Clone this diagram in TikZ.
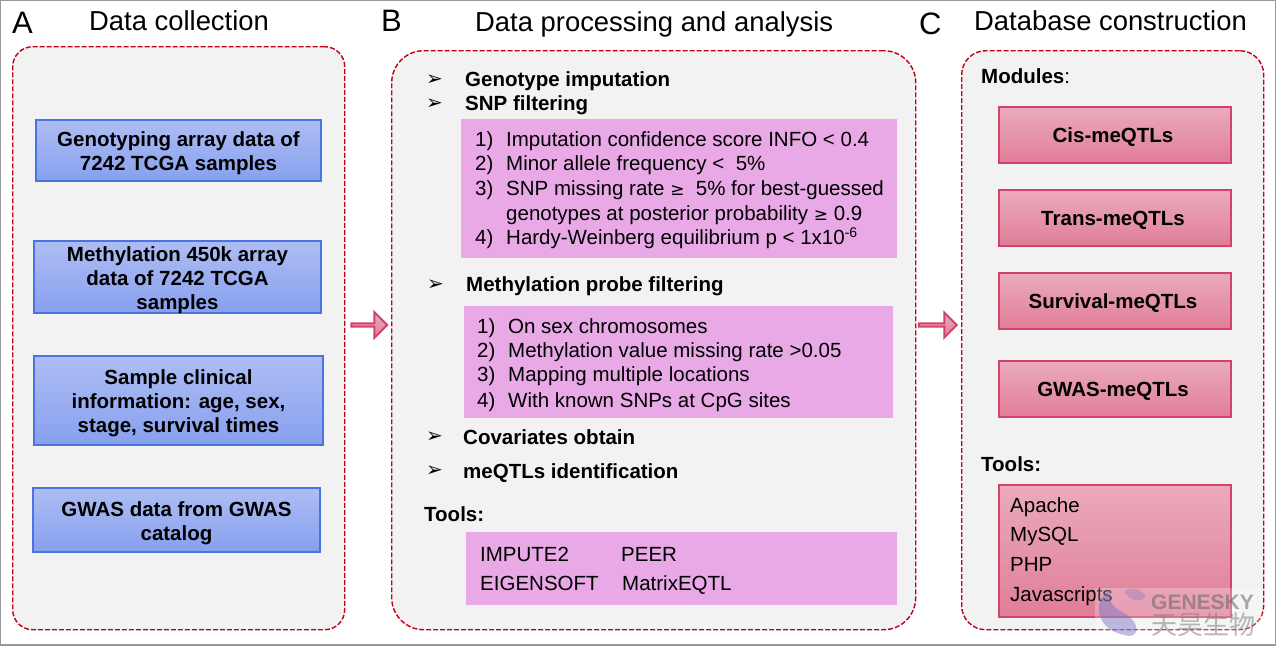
\documentclass[tikz,border=0pt]{standalone}
\usepackage{fontspec}
\setmainfont{Liberation Sans}
\newfontfamily\symfont{DejaVu Sans}
\newfontfamily\cjkfont{Noto Sans CJK SC}
\usetikzlibrary{shapes.arrows}
\definecolor{panelfill}{HTML}{F2F2F2}
\definecolor{paneledge}{HTML}{C00018}
\definecolor{bluetop}{HTML}{AEBDF3}
\definecolor{bluebot}{HTML}{87A0EE}
\definecolor{blueedge}{HTML}{4A74E2}
\definecolor{pinktop}{HTML}{EBABBC}
\definecolor{pinkbot}{HTML}{E07D98}
\definecolor{pinkedge}{HTML}{D2436C}
\definecolor{mauve}{HTML}{E8A9E6}
\tikzset{
  x=1pt,y=-1pt,
  panel/.style={draw=paneledge,fill=panelfill,line width=1.4pt,dash pattern=on 5pt off 2pt,inner sep=0,anchor=north west},
  bluebox/.style={draw=blueedge,line width=2pt,top color=bluetop,bottom color=bluebot,inner sep=0,align=center,
    text depth=0pt,font=\fontsize{20.5}{24}\selectfont\bfseries},
  pinkbox/.style={draw=pinkedge,line width=2pt,top color=pinktop,bottom color=pinkbot,inner sep=0,align=center,
    text height=14pt,text depth=0pt,font=\fontsize{20.5}{24}\selectfont\bfseries},
  mauvebox/.style={fill=mauve,inner sep=0,anchor=north west},
  title/.style={anchor=base west,inner sep=0,font=\fontsize{27.4}{30}\selectfont},
  letter/.style={anchor=base west,inner sep=0,font=\fontsize{31}{34}\selectfont},
  head/.style={anchor=base west,inner sep=0,font=\fontsize{20.5}{24}\selectfont\bfseries},
  plain/.style={anchor=base west,inner sep=0,font=\fontsize{20.5}{24}\selectfont},
  bullet/.style={anchor=base west,inner sep=0,font=\fontsize{20}{20}\symfont\bfseries},
  flow/.style={single arrow,draw=pinkedge,line width=2pt,top color=pinktop,bottom color=pinkbot,inner sep=0,
    single arrow head extend=7pt,single arrow tip angle=90,shape border rotate=0},
}
\begin{document}
\begin{tikzpicture}
\useasboundingbox (0,0) rectangle (1276,645);
\draw[draw=gray!80,line width=1.5pt] (0,0) rectangle (1276,645);

% titles
\node[letter] (la) at (12,33) {A};
\node[title] (ta) at (89,30) {Data collection};
\node[letter] (lb) at (381,31) {B};
\node[title] (tb) at (475,31) {Data processing and analysis};
\node[letter] (lc) at (919,34) {C};
\node[title] (tc) at (974,30) {Database construction};

% panels
\node[panel,rounded corners=20pt,minimum width=332pt,minimum height=583pt] (pa) at (12,46) {};
\node[panel,rounded corners=32pt,minimum width=524pt,minimum height=579pt] (pb) at (391,50) {};
\node[panel,rounded corners=24pt,minimum width=302pt,minimum height=579pt] (pc) at (961,50) {};

% column A
\node[bluebox,minimum width=285pt,minimum height=61pt] (a1) at (178.5,150.5) {\raisebox{-2pt}{Genotyping array data of}\\\raisebox{-2pt}{7242 TCGA samples}};
\node[bluebox,minimum width=287pt,minimum height=72pt] (a2) at (177.5,277) {\raisebox{-2pt}{Methylation 450k array}\\\raisebox{-2pt}{data of 7242 TCGA}\\\raisebox{-2pt}{samples}};
\node[bluebox,minimum width=289pt,minimum height=89pt] (a3) at (178.5,400.5) {\raisebox{-2pt}{Sample clinical}\\\raisebox{-2pt}{information: age, sex,}\\\raisebox{-2pt}{stage, survival times}};
\node[bluebox,minimum width=287pt,minimum height=64pt] (a4) at (176.5,520) {\raisebox{-2pt}{GWAS data from GWAS}\\\raisebox{-2pt}{catalog}};

% column B
\node[bullet] (b1) at (426,85) {➢};
\node[head] (t1) at (465,86) {Genotype imputation};
\node[bullet] (b2) at (426,109) {➢};
\node[head] (t2) at (465,110) {SNP filtering};
\node[mauvebox,minimum width=436pt,minimum height=139pt] (m1) at (461,119) {};
\node[plain] (n1) at (475,146) {1)};
\node[plain] (s1) at (506,146) {Imputation confidence score INFO < 0.4};
\node[plain] (n2) at (475,170) {2)};
\node[plain] (s2) at (506,170) {Minor allele frequency <\ \ 5\%};
\node[plain] (n3) at (475,195) {3)};
\node[plain] (s3) at (506,195) {SNP missing rate {\symfont\fontsize{17}{20}\selectfont ≥}\ \ 5\% for best-guessed};
\node[plain] (s3b) at (506,220) {genotypes at posterior probability {\symfont\fontsize{17}{20}\selectfont ≥} 0.9};
\node[plain] (n4) at (475,244) {4)};
\node[plain] (s4) at (506,244) {Hardy-Weinberg equilibrium p < 1x10\raisebox{7pt}{\fontsize{14}{14}\selectfont -6}};

\node[bullet] (b3) at (427,290) {➢};
\node[head] (t3) at (466,291) {Methylation probe filtering};
\node[mauvebox,minimum width=429pt,minimum height=112pt] (m2) at (464,306) {};
\node[plain] (q1n) at (477,333) {1)};
\node[plain] (q1) at (508,333) {On sex chromosomes};
\node[plain] (q2n) at (477,357) {2)};
\node[plain] (q2) at (508,357) {Methylation value missing rate >0.05};
\node[plain] (q3n) at (477,381) {3)};
\node[plain] (q3) at (508,381) {Mapping multiple locations};
\node[plain] (q4n) at (477,407) {4)};
\node[plain] (q4) at (508,407) {With known SNPs at CpG sites};

\node[bullet] (b4) at (426,442) {➢};
\node[head] (t4) at (463,444) {Covariates obtain};
\node[bullet] (b5) at (426,476) {➢};
\node[head] (t5) at (463,478) {meQTLs identification};
\node[head] (t6) at (424,521) {Tools:};
\node[mauvebox,minimum width=431pt,minimum height=73pt] (m3) at (466,532) {};
\node[plain] (u1) at (480,561) {IMPUTE2};
\node[plain] (u2) at (621,561) {PEER};
\node[plain] (u3) at (480,590) {EIGENSOFT};
\node[plain] (u4) at (622,590) {MatrixEQTL};

% column C
\node[anchor=base west,inner sep=0,font=\fontsize{20.5}{24}\selectfont] (mod) at (981,83) {\textbf{Modules}:};
\node[pinkbox,minimum width=232pt,minimum height=56pt] (c1) at (1115,135) {\kern-4pt Cis-meQTLs};
\node[pinkbox,minimum width=232pt,minimum height=56pt] (c2) at (1115,218) {\kern-4pt Trans-meQTLs};
\node[pinkbox,minimum width=232pt,minimum height=56pt] (c3) at (1115,301) {\kern-4pt Survival-meQTLs};
\node[pinkbox,minimum width=232pt,minimum height=56pt] (c4) at (1115,389) {\kern-4pt GWAS-meQTLs};
\node[head] (t7) at (981,471) {Tools:};
\node[pinkbox,minimum width=232pt,minimum height=132pt] (c5) at (1115,551) {};
\node[plain] (v1) at (1010,512) {Apache};
\node[plain] (v2) at (1010,541) {MySQL};
\node[plain] (v3) at (1010,571) {PHP};
\node[plain] (v4) at (1010,601) {Javascripts};

% arrows between panels
\node[flow,minimum height=36pt,minimum width=26pt] (f1) at (368.5,325) {};
\node[flow,minimum height=38pt,minimum width=25pt] (f2) at (937,325) {};

% watermark
\fill[white,opacity=.25] (1095,588) rectangle (1262,640);
\fill[gray!60!blue!80,opacity=.45] (1112,590) .. controls (1092,596) and (1092,632) .. (1130,636)
  .. controls (1142,634) and (1136,618) .. (1122,612) .. controls (1110,606) and (1108,598) .. (1112,590);
\fill[gray!60!blue!80,opacity=.3] (1124,592) .. controls (1130,586) and (1140,588) .. (1146,596)
  .. controls (1140,604) and (1130,600) .. (1124,592);
\node[anchor=base west,inner sep=0,opacity=.55,text=black!60,font=\fontsize{21}{22}\selectfont\bfseries] (w1) at (1151,609) {GENESKY};
\node[anchor=base west,inner sep=0,opacity=.55,text=black!50,font=\fontsize{26}{27}\cjkfont] (w2) at (1151,634) {天昊生物};
\end{tikzpicture}
\end{document}
